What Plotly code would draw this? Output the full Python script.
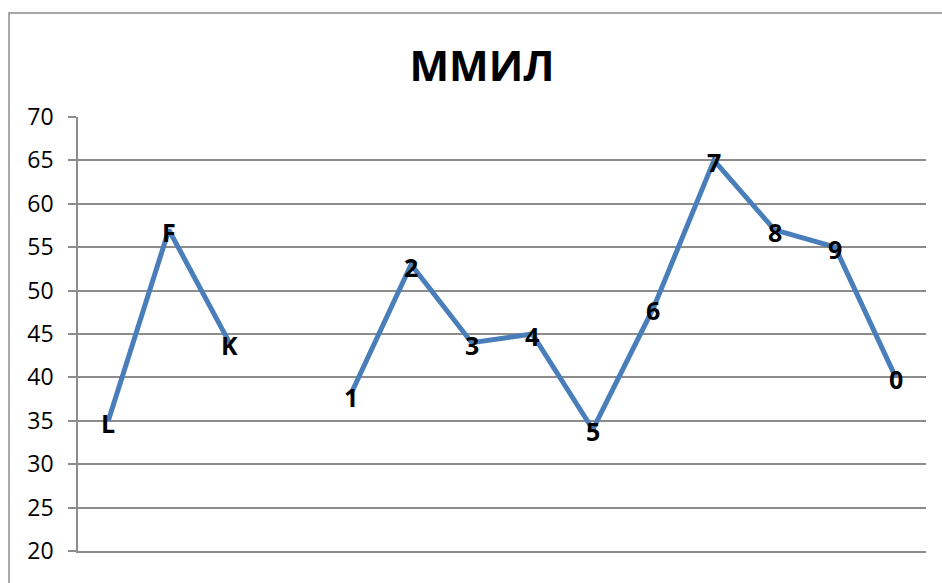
import plotly.graph_objects as go

# Category slots along the x axis (one slot is intentionally left empty)
categories = ["L", "F", "K", "", "1", "2", "3", "4", "5", "6", "7", "8", "9", "0"]
values = [35, 57, 44, None, 38, 53, 44, 45, 34, 48, 65, 57, 55, 40]
y_ticks = [20, 25, 30, 35, 40, 45, 50, 55, 60, 65, 70]
title_text = "ММИЛ"

W, H = 942, 583
ML, MR, MT, MB = 78, 16, 117, 32
plot_w = W - ML - MR
plot_h = H - MT - MB

x_pos = list(range(len(categories)))

fig = go.Figure()
fig.add_trace(
    go.Scatter(
        x=x_pos,
        y=values,
        mode="lines",
        line=dict(color="#4A7EBB", width=5),
        connectgaps=False,
        cliponaxis=False,
        hoverinfo="skip",
    )
)

# Data labels centred on each point
for xi, cat, val in zip(x_pos, categories, values):
    if val is None:
        continue
    fig.add_annotation(
        x=xi, y=val, text=cat, showarrow=False,
        xanchor="center", yanchor="middle", yshift=-2,
        font=dict(family="Open Sans", size=25, color="black", weight="bold"),
    )

# Outer chart frame (extends past the right and bottom edges)
bx0 = (9 - ML) / plot_w
by1 = (H - MB - 13) / plot_h
fig.add_shape(
    type="rect", xref="paper", yref="paper",
    x0=bx0, x1=1.2, y0=-0.3, y1=by1,
    line=dict(color="#8C8C8C", width=1.5), fillcolor="rgba(0,0,0,0)",
    layer="below",
)

fig.update_layout(
    width=W,
    height=H,
    margin=dict(l=ML, r=MR, t=MT, b=MB, pad=0),
    paper_bgcolor="white",
    plot_bgcolor="white",
    showlegend=False,
    title=dict(
        text=title_text,
        x=482 / W,
        xanchor="center",
        y=1 - 66 / H,
        yanchor="middle",
        font=dict(family="Open Sans", size=42, color="black", weight="bold"),
    ),
)

fig.update_xaxes(
    range=[-0.5, len(categories) - 0.5],
    showticklabels=False,
    showgrid=False,
    zeroline=False,
    showline=True,
    linecolor="#8C8C8C",
    linewidth=1.5,
    ticks="",
    fixedrange=True,
)

fig.update_yaxes(
    range=[20, 70],
    tickvals=y_ticks,
    ticktext=[str(v) for v in y_ticks],
    showgrid=True,
    gridcolor="#8C8C8C",
    gridwidth=1.5,
    zeroline=False,
    showline=True,
    linecolor="#8C8C8C",
    linewidth=1.5,
    ticks="outside",
    ticklen=8,
    tickwidth=1.5,
    tickcolor="#8C8C8C",
    ticklabelstandoff=10,
    tickfont=dict(family="Open Sans", size=23, color="black"),
    fixedrange=True,
)

fig.write_html("out.html")
